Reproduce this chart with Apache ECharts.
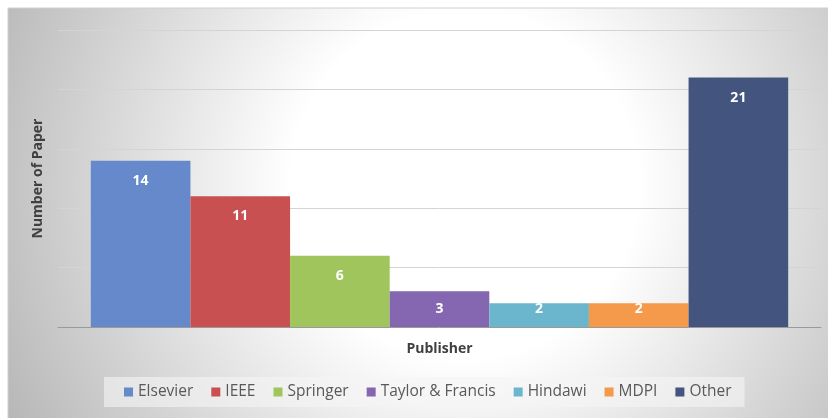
<!DOCTYPE html>
<html>
<head>
<meta charset="utf-8">
<title>Number of Paper by Publisher</title>
<script src="https://cdn.jsdelivr.net/npm/echarts@6/dist/echarts.min.js"></script>
<style>
    html, body { margin: 0; padding: 0; background: #fff; }
    #chart { width: 828px; height: 418px; }
</style>
</head>
<body>
<div id="chart"></div>
<script>
// 数据
const publishers = ['Elsevier', 'IEEE', 'Springer', 'Taylor & Francis', 'Hindawi', 'MDPI', 'Other'];
const papers = [14, 11, 6, 3, 2, 2, 21];
const colors = ['#6589ca', '#c95050', '#a0c55c', '#8566b1', '#6bb6cc', '#f5994a', '#43557f'];

const chart = echarts.init(document.getElementById('chart'));

// 标签位置: 矮柱子放中间
function labelFor(v) {
    if (v >= 5) {
        return { position: 'insideTop', distance: 13 };
    }
    if (v >= 3) {
        return { position: 'inside' };
    }
    return { position: 'inside', offset: [0, -6] };
}

const series = publishers.map((name, i) => ({
    name: name,
    type: 'bar',
    data: [papers[i]],
    barGap: '0%',
    barCategoryGap: '8.6%',
    itemStyle: {
        color: colors[i]
    },
    label: Object.assign({
        show: true,
        color: '#fff',
        fontWeight: 'bold',
        fontSize: 14,
        fontFamily: 'Open Sans'
    }, labelFor(papers[i]))
}));

chart.setOption({
    animation: false,
    textStyle: { fontFamily: 'Open Sans' },
    graphic: [
        {
            type: 'rect',
            z: -10,
            shape: { x: 8, y: 8, width: 830, height: 420 },
            style: {
                fill: {
                    type: 'radial',
                    x: 0.55, y: 0.42, r: 1.25,
                    colorStops: [
                        { offset: 0, color: '#ffffff' },
                        { offset: 0.33, color: '#ffffff' },
                        { offset: 1, color: '#b4b4b4' }
                    ]
                },
                stroke: '#d0d0d0',
                lineWidth: 1
            }
        }
    ],
    grid: {
        left: 58,
        right: 7,
        top: 30,
        bottom: 91
    },
    legend: {
        left: 104,
        top: 377,
        padding: [7, 13, 7, 20],
        itemGap: 18,
        itemWidth: 9,
        itemHeight: 9,
        icon: 'rect',
        backgroundColor: 'rgba(245,245,245,0.6)',
        textStyle: {
            fontSize: 15.5,
            color: '#595959'
        },
        data: publishers
    },
    xAxis: {
        type: 'category',
        data: [''],
        name: 'Publisher',
        nameLocation: 'middle',
        nameGap: 15,
        nameTextStyle: {
            fontSize: 14,
            fontWeight: 'bold',
            color: '#404040'
        },
        axisLine: { lineStyle: { color: '#9a9a9a', width: 1 } },
        axisTick: { show: false },
        axisLabel: { show: false }
    },
    yAxis: {
        type: 'value',
        min: 0,
        max: 25,
        interval: 5,
        name: 'Number of Paper',
        nameLocation: 'middle',
        nameGap: 13,
        nameTextStyle: {
            fontSize: 14,
            fontWeight: 'bold',
            color: '#404040'
        },
        axisLine: { show: false },
        axisTick: { show: false },
        axisLabel: { show: false },
        splitLine: { // 分割线
            lineStyle: { color: '#d4d4d4' }
        }
    },
    series: series
});
</script>
</body>
</html>
